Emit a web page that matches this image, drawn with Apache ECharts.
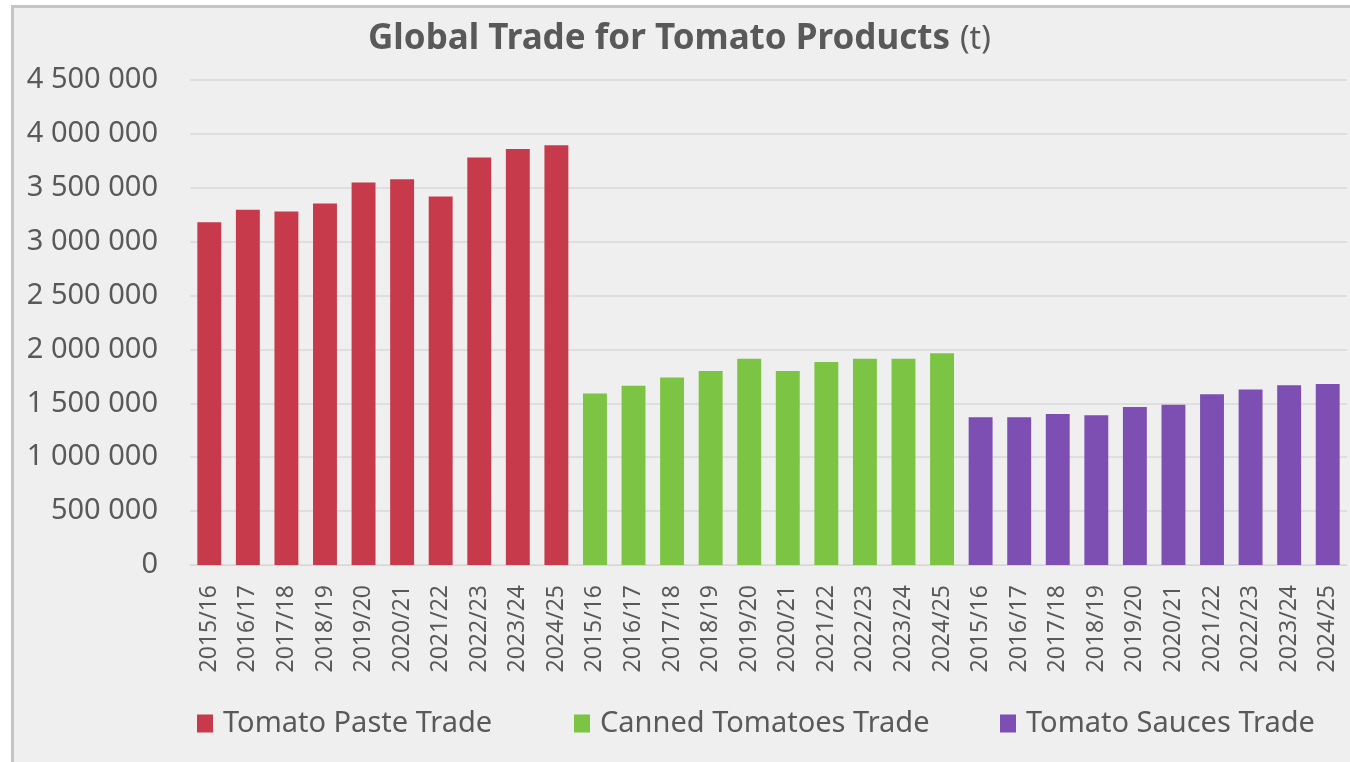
<!DOCTYPE html>
<html>
<head>
<meta charset="utf-8">
<script src="https://cdn.jsdelivr.net/npm/echarts@6/dist/echarts.min.js"></script>
<style>
html,body{margin:0;padding:0;background:#ffffff;width:1350px;height:762px;overflow:hidden;}
#frame{position:absolute;left:11px;top:5px;width:1345px;height:765px;background:#efefef;border-left:3px solid #c4c4c4;border-top:3px solid #c4c4c4;box-sizing:border-box;}
#chart{position:absolute;left:0;top:0;width:1350px;height:762px;}
</style>
</head>
<body>
<div id="frame"></div>
<div id="chart"></div>
<script>
const seasons = ["2015/16","2016/17","2017/18","2018/19","2019/20","2020/21","2021/22","2022/23","2023/24","2024/25"];
const pasteTrade = [3180000,3295000,3280000,3355000,3550000,3580000,3420000,3780000,3860000,3895000];
const cannedTrade = [1592000,1663000,1740000,1800000,1914000,1800000,1884000,1914000,1914000,1964000];
const saucesTrade = [1371000,1371000,1402000,1390000,1466000,1487000,1585000,1628000,1667000,1679000];
const seriesNames = ["Tomato Paste Trade","Canned Tomatoes Trade","Tomato Sauces Trade"];
const yTicks = {min:0, max:4500000, interval:500000};

const categories = seasons.concat(seasons, seasons);
const blank = seasons.map(() => '-');
const pasteData = pasteTrade.concat(blank, blank);
const cannedData = blank.concat(cannedTrade, blank);
const saucesData = blank.concat(blank, saucesTrade);

const colors = ['#c73a4b','#7cc443','#7e4fb2'];
const FONT = '"Noto Sans", "Open Sans", sans-serif';
const textColor = '#595959';

function fmt(v){
  return String(v).replace(/\B(?=(\d{3})+(?!\d))/g,' ');
}

const chart = echarts.init(document.getElementById('chart'), null, {renderer:'canvas'});
const legendBase = {
  top: 709, itemWidth: 16, itemHeight: 18, itemGap: 0, padding: 0,
  icon: 'rect',
  textStyle: {fontFamily: FONT, fontSize: 29, color: textColor, padding:[0,0,0,5]},
  selectedMode: false
};
chart.setOption({
  backgroundColor: 'transparent',
  color: colors,
  title: {
    text: '{b|Global Trade for Tomato Products}  {n|(t)}',
    left: 368, top: 22, padding: 0,
    textStyle: {
      rich: {
        b: {fontFamily: FONT, fontSize: 35, fontWeight: 'bold', color: textColor},
        n: {fontFamily: FONT, fontSize: 32, fontWeight: 'normal', color: textColor}
      }
    }
  },
  legend: [
    Object.assign({}, legendBase, {left: 197, data: [seriesNames[0]]}),
    Object.assign({}, legendBase, {left: 574, data: [seriesNames[1]]}),
    Object.assign({}, legendBase, {left: 1000, data: [seriesNames[2]]})
  ],
  grid: {left: 190, right: 3, top: 80, bottom: 197, containLabel: false},
  xAxis: {
    type: 'category',
    data: categories,
    axisLine: {show: true, lineStyle: {color: '#d6d6d6', width: 1}},
    axisTick: {show: false},
    axisLabel: {
      rotate: 90, interval: 0, margin: 20,
      fontFamily: FONT, fontSize: 23, color: textColor
    }
  },
  yAxis: {
    type: 'value',
    min: yTicks.min, max: yTicks.max, interval: yTicks.interval,
    axisLine: {show: false},
    axisTick: {show: false},
    splitLine: {lineStyle: {color: '#d9d9d9', width: 1.5}},
    axisLabel: {
      margin: 32, fontFamily: FONT, fontSize: 29, color: textColor,
      formatter: fmt
    }
  },
  series: [
    {name: seriesNames[0], type: 'bar', stack: 'all', data: pasteData, barWidth: '62%'},
    {name: seriesNames[1], type: 'bar', stack: 'all', data: cannedData, barWidth: '62%'},
    {name: seriesNames[2], type: 'bar', stack: 'all', data: saucesData, barWidth: '62%'}
  ],
  animation: false
});
</script>
</body>
</html>
